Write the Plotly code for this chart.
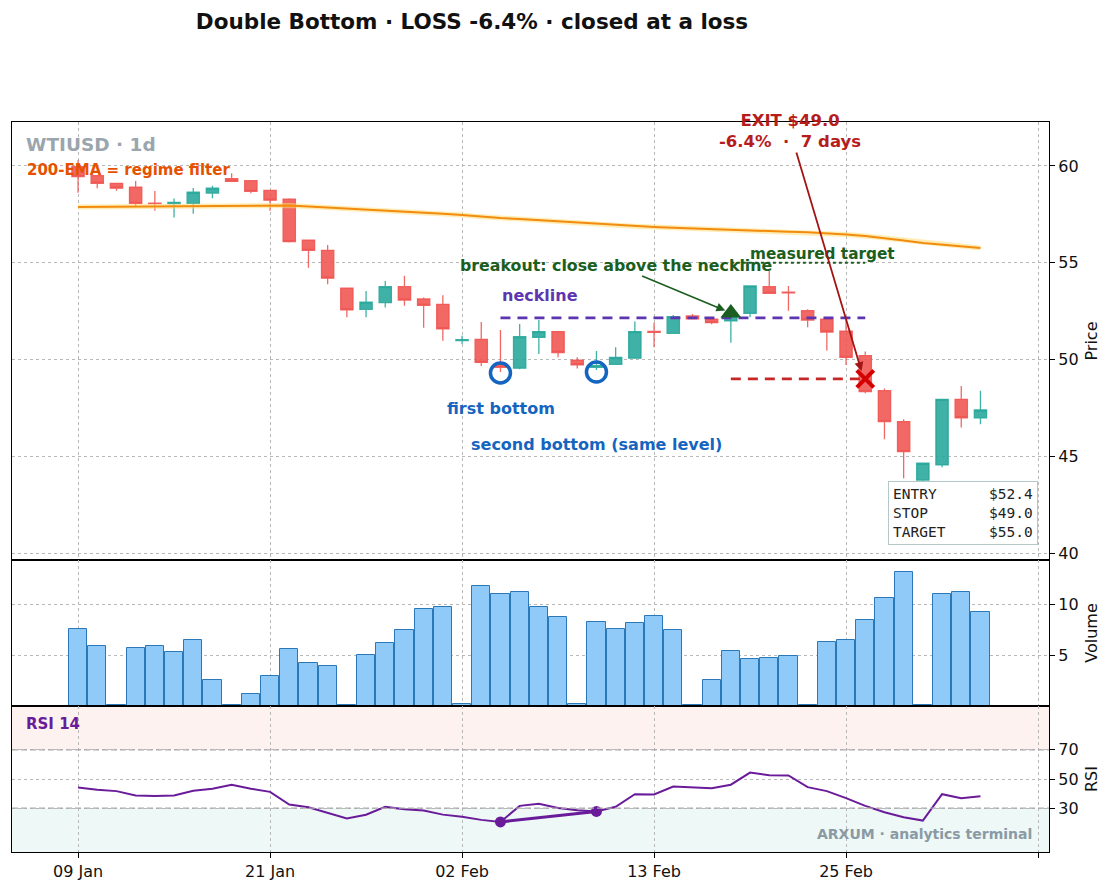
import plotly.graph_objects as go
from plotly.subplots import make_subplots

# ---------------- data ----------------
bars = list(range(48))
tick_idx = [0, 10, 20, 30, 40, 50]
tick_labels = ["09 Jan", "21 Jan", "02 Feb", "13 Feb", "25 Feb", ""]

opens = [59.96, 59.50, 59.10, 58.90, 58.08, 58.05, 58.07, 58.60, 59.34, 59.24,
         58.74, 58.28, 56.16, 55.64, 53.68, 52.59, 52.94, 53.76, 53.13, 52.85,
         50.98, 51.04, 49.78, 49.55, 51.15, 51.44, 49.97, 49.60, 49.75, 50.07,
         51.45, 51.35, 52.25, 52.08, 52.00, 52.39, 53.76, 53.48, 52.52, 52.08,
         51.47, 50.20, 48.39, 46.79, 43.77, 44.55, 47.94, 46.99]
highs = [60.30, 59.52, 59.12, 59.22, 58.70, 58.32, 58.86, 58.98, 59.62, 59.26,
         58.76, 58.33, 56.18, 55.92, 53.70, 53.54, 54.06, 54.32, 53.20, 53.32,
         51.23, 51.94, 51.52, 51.83, 52.04, 51.46, 50.11, 50.44, 50.63, 51.96,
         51.90, 52.30, 52.35, 52.15, 52.45, 53.82, 54.58, 53.80, 52.60, 52.10,
         52.04, 50.41, 48.50, 46.91, 44.67, 47.96, 48.63, 48.39]
lows = [58.62, 58.85, 58.72, 57.93, 57.69, 57.33, 57.53, 58.33, 59.17, 58.59,
        57.69, 56.04, 54.74, 53.89, 52.18, 52.18, 52.68, 52.78, 51.64, 50.97,
        50.80, 49.66, 49.35, 49.50, 50.28, 50.11, 49.53, 49.46, 49.72, 50.05,
        50.63, 51.33, 52.08, 51.82, 50.87, 52.18, 53.38, 52.52, 51.67, 50.46,
        49.72, 48.25, 45.88, 43.86, 43.60, 44.43, 46.49, 46.65]
closes = [59.45, 59.10, 58.85, 58.07, 58.06, 58.12, 58.64, 58.85, 59.20, 58.69,
          58.23, 56.09, 55.64, 54.20, 52.56, 52.96, 53.76, 53.07, 52.80, 51.58,
          51.02, 49.85, 49.60, 51.18, 51.44, 50.36, 49.72, 49.68, 50.11, 51.44,
          51.40, 52.21, 52.10, 51.90, 52.40, 53.80, 53.42, 53.44, 52.04, 51.42,
          50.11, 48.34, 46.79, 45.24, 44.64, 47.94, 46.99, 47.39]
ema200 = [57.88, 57.89, 57.90, 57.90, 57.91, 57.91, 57.92, 57.93, 57.94, 57.96,
          57.97, 57.96, 57.90, 57.85, 57.78, 57.72, 57.68, 57.63, 57.58, 57.53,
          57.46, 57.38, 57.31, 57.26, 57.20, 57.13, 57.07, 57.00, 56.94, 56.89,
          56.85, 56.81, 56.77, 56.73, 56.69, 56.66, 56.63, 56.60, 56.57, 56.53,
          56.46, 56.38, 56.28, 56.15, 56.02, 55.93, 55.85, 55.76]
volume = [7.6, 5.9, 0.07, 5.7, 5.9, 5.3, 6.5, 2.6, 0.05, 1.2,
          3.0, 5.6, 4.2, 3.9, 0.13, 5.0, 6.2, 7.5, 9.6, 9.8,
          0.23, 11.8, 11.0, 11.2, 9.8, 8.8, 0.23, 8.3, 7.6, 8.2,
          8.9, 7.5, 0.07, 2.6, 5.4, 4.6, 4.7, 4.9, 0.07, 6.3,
          6.5, 8.5, 10.7, 13.2, 0.13, 11.0, 11.2, 9.3]
rsi = [44.1, 42.6, 41.7, 38.7, 38.4, 38.7, 42.0, 43.3, 46.1, 43.3,
       41.2, 32.5, 30.7, 26.8, 22.9, 25.5, 30.9, 29.3, 28.4, 25.6,
       24.2, 22.0, 20.6, 31.6, 33.1, 30.2, 28.6, 27.8, 31.0, 39.6,
       39.4, 44.8, 44.4, 43.7, 46.1, 54.4, 52.6, 52.4, 44.4, 41.7,
       36.9, 31.6, 27.2, 23.8, 21.5, 39.6, 36.9, 38.1]

bottom_idx = [22, 27]
bottom_px = [49.30, 49.35]
neckline = 52.15
neck_start, neck_end = 22, 41
entry_idx, entry_px = 34, 52.4
stop_px = 49.0
target_px = 55.0
exit_idx, exit_px = 41, 49.0

# ---------------- figure ----------------
FONT = "DejaVu Sans"
fig = make_subplots(rows=3, cols=1, shared_xaxes=True, vertical_spacing=0,
                    row_heights=[0.6, 0.2, 0.2])

RED = "rgba(239,83,80,0.88)"
TEAL = "rgba(38,166,154,0.88)"

fig.add_trace(go.Candlestick(
    x=bars, open=opens, high=highs, low=lows, close=closes,
    increasing=dict(line=dict(color=TEAL, width=1.3), fillcolor=TEAL),
    decreasing=dict(line=dict(color=RED, width=1.3), fillcolor=RED),
    whiskerwidth=0, showlegend=False, hoverinfo="skip"), row=1, col=1)

# EMA with soft halo
fig.add_trace(go.Scatter(x=bars, y=ema200, mode="lines",
                         line=dict(color="rgba(255,220,120,0.55)", width=5),
                         showlegend=False, hoverinfo="skip"), row=1, col=1)
fig.add_trace(go.Scatter(x=bars, y=ema200, mode="lines",
                         line=dict(color="#f28c0f", width=2),
                         showlegend=False, hoverinfo="skip"), row=1, col=1)

# neckline / stop / target
fig.add_trace(go.Scatter(x=[neck_start, neck_end], y=[neckline, neckline], mode="lines",
                         line=dict(color="#5e35b1", width=2.6, dash="10px,7px"),
                         showlegend=False, hoverinfo="skip"), row=1, col=1)
fig.add_trace(go.Scatter(x=[entry_idx, exit_idx], y=[stop_px, stop_px], mode="lines",
                         line=dict(color="#c62828", width=2.6, dash="10px,7px"),
                         showlegend=False, hoverinfo="skip"), row=1, col=1)
fig.add_trace(go.Scatter(x=[entry_idx, exit_idx], y=[target_px, target_px], mode="lines",
                         line=dict(color="#1b5e20", width=2, dash="3px,3px"),
                         showlegend=False, hoverinfo="skip"), row=1, col=1)

# bottoms
fig.add_trace(go.Scatter(x=bottom_idx, y=bottom_px, mode="markers",
                         marker=dict(symbol="circle-open", size=20, color="#1565c0",
                                     line=dict(width=3.5, color="#1565c0")),
                         showlegend=False, hoverinfo="skip"), row=1, col=1)
# entry
fig.add_trace(go.Scatter(x=[entry_idx], y=[entry_px], mode="markers",
                         marker=dict(symbol="triangle-up", size=18, color="#1b5e20"),
                         showlegend=False, hoverinfo="skip"), row=1, col=1)
# exit
fig.add_trace(go.Scatter(x=[exit_idx], y=[exit_px], mode="markers",
                         marker=dict(symbol="x-thin", size=17, color="#d50000",
                                     line=dict(width=4, color="#d50000")),
                         showlegend=False, hoverinfo="skip"), row=1, col=1)

# volume
fig.add_trace(go.Bar(x=bars, y=volume, width=0.95,
                     marker=dict(color="#90caf9", line=dict(color="#2a78b8", width=1)),
                     showlegend=False, hoverinfo="skip"), row=2, col=1)

# RSI
fig.add_trace(go.Scatter(x=bars, y=rsi, mode="lines",
                         line=dict(color="#6a1b9a", width=2),
                         showlegend=False, hoverinfo="skip"), row=3, col=1)
fig.add_trace(go.Scatter(x=bottom_idx, y=[rsi[i] for i in bottom_idx], mode="lines+markers",
                         line=dict(color="#6a1b9a", width=3),
                         marker=dict(size=11, color="#6a1b9a"),
                         showlegend=False, hoverinfo="skip"), row=3, col=1)

# RSI bands and guide lines
fig.add_shape(type="rect", xref="x3 domain", yref="y3", x0=0, x1=1, y0=70, y1=100,
              fillcolor="rgba(244,67,54,0.07)", line_width=0, layer="below")
fig.add_shape(type="rect", xref="x3 domain", yref="y3", x0=0, x1=1, y0=0, y1=30,
              fillcolor="rgba(38,166,154,0.08)", line_width=0, layer="below")
for lvl in (70, 30):
    fig.add_shape(type="line", xref="x3 domain", yref="y3", x0=0, x1=1, y0=lvl, y1=lvl,
                  line=dict(color="#aaaaaa", width=1.3, dash="6px,3px"))

# ---------------- annotations ----------------
ann = []
def txt(text, x, y, xref, yref, color, size, xanchor="center", yanchor="middle", **kw):
    d = dict(text=text, x=x, y=y, xref=xref, yref=yref, showarrow=False,
             font=dict(family=FONT, size=size, color=color),
             xanchor=xanchor, yanchor=yanchor)
    d.update(kw)
    ann.append(d)

txt("<b>WTIUSD · 1d</b>", 0.0116, 0.9475, "x domain", "y domain", "#9aa5ae", 18.5, "left")
txt("<b>200-EMA = regime filter</b>", 0.0125, 0.890, "x domain", "y domain", "#e65100", 15, "left")
txt("<b>neckline</b>", neck_start, 53.33, "x", "y", "#5e35b1", 16, "left")
txt("<b>first bottom</b>", 22.05, 47.49, "x", "y", "#1565c0", 16)
txt("<b>second bottom (same level)</b>", 27.0, 45.63, "x", "y", "#1565c0", 16)
txt("<b>measured target</b>", 38.75, 55.45, "x", "y", "#1b5e20", 15.3)

ann.append(dict(text="<b>breakout: close above the neckline</b>", x=entry_idx - 0.1, y=entry_px + 0.05,
                xref="x", yref="y", ax=28.0, ay=54.88, axref="x", ayref="y",
                showarrow=True, arrowhead=2, arrowsize=1.1, arrowwidth=1.6, arrowcolor="#1b5e20",
                standoff=4, font=dict(family=FONT, size=15.8, color="#1b5e20")))
ann.append(dict(text="<b>EXIT $49.0</b><br><b>-6.4%  ·  7 days</b>", x=exit_idx - 0.15, y=exit_px + 0.25,
                xref="x", yref="y", ax=37.08, ay=61.81, axref="x", ayref="y",
                showarrow=True, arrowhead=2, arrowsize=1.0, arrowwidth=1.8, arrowcolor="#a31515",
                standoff=3, font=dict(family=FONT, size=16.5, color="#b71c1c")))

NB = "\u00a0"
box = "<br>".join([
    "ENTRY" + NB * 6 + "$52.4",
    "STOP" + NB * 7 + "$49.0",
    "TARGET" + NB * 5 + "$55.0",
])
txt(box, 0.9894, 0.034, "x domain", "y domain", "#222222", 14.5, "right", "bottom",
    align="left", bordercolor="#b4c8c8", borderwidth=1, borderpad=4,
    bgcolor="rgba(255,255,255,0.92)")
ann[-1]["font"]["family"] = "DejaVu Sans Mono"

txt("<b>RSI 14</b>", 0.0116, 0.877, "x3 domain", "y3 domain", "#6a1b9a", 15, "left")
txt("<b>ARXUM · analytics terminal</b>", 0.9855, 0.123, "x3 domain", "y3 domain", "#8a9aa4", 14, "right")

fig.update_layout(annotations=ann)

# ---------------- axes ----------------
axis_common = dict(showline=True, mirror=True, linecolor="black", linewidth=1.2,
                   showgrid=True, gridcolor="#b8b8b8", griddash="dot", gridwidth=1,
                   zeroline=False, tickfont=dict(family=FONT, size=16, color="#111"))
for r in (1, 2, 3):
    fig.update_xaxes(range=[-3.44, 50.57], tickmode="array", tickvals=tick_idx,
                     ticktext=tick_labels, ticks="outside" if r == 3 else "",
                     ticklen=5, tickcolor="black", showticklabels=(r == 3),
                     rangeslider=dict(visible=False), row=r, col=1, **axis_common)

fig.update_yaxes(range=[39.64, 62.27], tickvals=[40, 45, 50, 55, 60], side="right",
                 ticks="outside", ticklen=5, tickcolor="black",
                 title=dict(text="Price", font=dict(family=FONT, size=16), standoff=8),
                 row=1, col=1, **axis_common)
fig.update_yaxes(range=[0, 14.4], tickvals=[5, 10], side="right",
                 ticks="outside", ticklen=5, tickcolor="black",
                 title=dict(text="Volume", font=dict(family=FONT, size=16), standoff=8),
                 row=2, col=1, **axis_common)
fig.update_yaxes(range=[0, 100], tickvals=[30, 50, 70], side="right",
                 ticks="outside", ticklen=5, tickcolor="black",
                 title=dict(text="RSI", font=dict(family=FONT, size=16), standoff=8),
                 row=3, col=1, **axis_common)

fig.update_layout(
    width=1118, height=894,
    margin=dict(l=12, r=69, t=122, b=42),
    paper_bgcolor="white", plot_bgcolor="white",
    font=dict(family=FONT, size=14, color="#111"),
    title=dict(text="<b>Double Bottom · LOSS -6.4% · closed at a loss</b>",
               x=472 / 1118, xanchor="center", xref="container",
               y=1 - 21 / 894, yanchor="middle", yref="container",
               font=dict(family=FONT, size=21.5, color="#111")),
    bargap=0, boxgap=0.36, boxgroupgap=0,
    showlegend=False,
)

fig.write_html("out.html")
